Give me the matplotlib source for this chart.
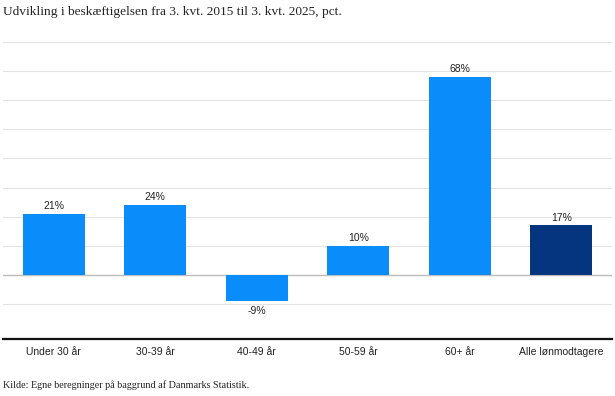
import matplotlib
matplotlib.use('Agg')
import matplotlib.pyplot as plt

# Data
categories = ['Under 30 år', '30-39 år', '40-49 år', '50-59 år', '60+ år', 'Alle lønmodtagere']
values = [21, 24, -9, 10, 68, 17]
labels = ['21%', '24%', '-9%', '10%', '68%', '17%']
colors = ['#0a8cfa'] * 5 + ['#05357f']

fig = plt.figure(figsize=(6.15, 3.96), dpi=100)
ax = fig.add_axes([3 / 615, 57 / 396, 609 / 615, 297 / 396])

x = range(len(categories))
ax.bar(x, values, width=0.61, color=colors, zorder=3)

for xi, v, lab in zip(x, values, labels):
    if v >= 0:
        ax.text(xi, v + 1, lab, ha='center', va='bottom', fontsize=7.5,
                family='Liberation Sans', color='#222222', zorder=4)
    else:
        ax.text(xi, v - 1.5, lab, ha='center', va='top', fontsize=7.5,
                family='Liberation Sans', color='#222222', zorder=4)

ax.set_xlim(-0.5, 5.5)
ax.set_ylim(-22, 80)
ax.set_yticks(range(-10, 81, 10))
ax.yaxis.grid(True, color='#e3e3e3', linewidth=0.8, zorder=0)
ax.axhline(0, color='#bdbdbd', linewidth=1.0, zorder=2)
ax.tick_params(axis='y', left=False, labelleft=False)
ax.tick_params(axis='x', length=0, pad=6)
ax.set_xticks(list(x))
ax.set_xticklabels(categories, fontsize=7.5, family='Liberation Sans', color='#222222')

for s in ['top', 'left', 'right']:
    ax.spines[s].set_visible(False)
ax.spines['bottom'].set_color('#111111')
ax.spines['bottom'].set_linewidth(1.6)

fig.text(3 / 615, 1 - 12 / 396, 'Udvikling i beskæftigelsen fra 3. kvt. 2015 til 3. kvt. 2025, pct.',
         ha='left', va='center', fontsize=9.6, family='Liberation Serif', color='#222222')
fig.text(3 / 615, 1 - 385 / 396, 'Kilde: Egne beregninger på baggrund af Danmarks Statistik.',
         ha='left', va='center', fontsize=7.3, family='Liberation Serif', color='#222222')

fig.savefig('out.png', dpi=100)
